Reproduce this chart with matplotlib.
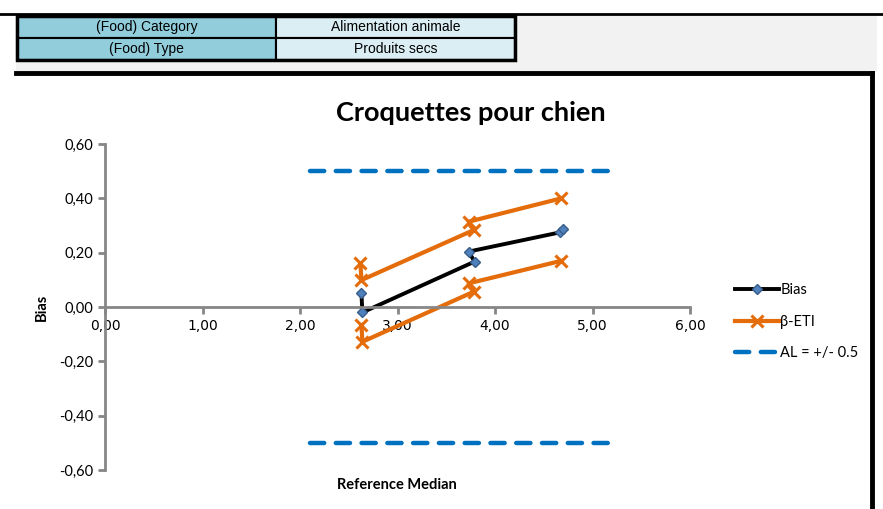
import matplotlib.pyplot as plt
from matplotlib.patches import Rectangle
from matplotlib.lines import Line2D

# données
bias_x = [2.63, 2.64, 3.79, 3.73, 4.67, 4.70]
bias_y = [0.05, -0.02, 0.167, 0.204, 0.275, 0.288]

eti_up_x = [2.62, 2.63, 3.78, 3.73, 4.68]
eti_up_y = [0.161, 0.099, 0.283, 0.314, 0.40]
eti_lo_x = [2.63, 2.64, 3.78, 3.73, 4.68]
eti_lo_y = [-0.066, -0.128, 0.056, 0.087, 0.170]

al_x = [2.10, 5.18]
al_level = 0.5

table_rows = [["(Food) Category", "Alimentation animale"],
              ["(Food) Type", "Produits secs"]]

W, H = 883, 509
fig = plt.figure(figsize=(W / 100, H / 100), dpi=100)
fig.patch.set_facecolor("white")


def fx(px):
    return px / W


def fy(py):
    return 1 - py / H


# bandeau gris + ligne noire du haut
fig.add_artist(Rectangle((fx(16), fy(72)), fx(861), fy(16) - fy(72),
                         transform=fig.transFigure, fc="#F2F2F2", ec="none"))
fig.add_artist(Line2D([0, 1], [fy(14), fy(14)], transform=fig.transFigure,
                      color="black", lw=2))

# tableau en haut
narrow = ["Liberation Sans Narrow", "Liberation Sans", "DejaVu Sans"]
cols = [(17, 276, "#92CDDC"), (276, 515, "#DAEEF3")]
row_y = [(16, 38), (38, 60)]
for r, (y0, y1) in enumerate(row_y):
    for c, (x0, x1, col) in enumerate(cols):
        fig.add_artist(Rectangle((fx(x0), fy(y1)), fx(x1 - x0), fy(y0) - fy(y1),
                                 transform=fig.transFigure, fc=col,
                                 ec="black", lw=1.5))
        fig.text(fx((x0 + x1) / 2), fy((y0 + y1) / 2), table_rows[r][c],
                 ha="center", va="center", fontsize=10, family=narrow)
fig.add_artist(Rectangle((fx(17), fy(60)), fx(498), fy(16) - fy(60),
                         transform=fig.transFigure, fc="none",
                         ec="black", lw=2.5))

# cadre du graphique
fig.add_artist(Rectangle((fx(16), fy(509)), fx(855), fy(73) - fy(509),
                         transform=fig.transFigure, fc="white", ec="none"))
fig.add_artist(Line2D([fx(16), fx(872)], [fy(73), fy(73)],
                      transform=fig.transFigure, color="black", lw=3.5))
fig.add_artist(Line2D([fx(872), fx(872)], [fy(73), 0],
                      transform=fig.transFigure, color="black", lw=3.5))

font = ["Lato", "DejaVu Sans"]
ax = fig.add_axes([fx(105), fy(470), fx(585), fy(144) - fy(470)])
ax.set_facecolor("none")
ax.set_zorder(5)

ax.plot(al_x, [al_level] * 2, color="#0070C0", lw=3.2,
        dashes=(3.2, 2.6), dash_capstyle="round", label="AL = +/- 0.5")
ax.plot(al_x, [-al_level] * 2, color="#0070C0", lw=3.2,
        dashes=(3.2, 2.6), dash_capstyle="round")

ax.plot(eti_up_x, eti_up_y, color="#E46C0A", lw=3, marker="x", ms=8,
        mew=2.2, label="β-ETI")
ax.plot(eti_lo_x, eti_lo_y, color="#E46C0A", lw=3, marker="x", ms=8,
        mew=2.2)

ax.plot(bias_x, bias_y, color="black", lw=2.8, marker="D", ms=5,
        mfc="#4F81BD", mec="#385D8A", mew=1, label="Bias")

ax.set_xlim(0, 6)
ax.set_ylim(-0.6, 0.6)
ax.set_xticks([0, 1, 2, 3, 4, 5, 6])
ax.set_yticks([-0.6, -0.4, -0.2, 0, 0.2, 0.4, 0.6])
ax.set_xticklabels([f"{v:.2f}".replace(".", ",") for v in ax.get_xticks()],
                   family=font, fontsize=10.5)
ax.set_yticklabels([f"{v:.2f}".replace(".", ",") for v in ax.get_yticks()],
                   family=font, fontsize=10.5)

for s in ["top", "right"]:
    ax.spines[s].set_visible(False)
ax.spines["bottom"].set_position(("data", 0))
for s in ["left", "bottom"]:
    ax.spines[s].set_color("#868686")
    ax.spines[s].set_linewidth(2)
ax.tick_params(colors="#868686", width=2, length=5, labelcolor="black")
ax.tick_params(axis="x", pad=4)

fig.text(fx(471), fy(113), "Croquettes pour chien", ha="center", va="center",
         fontsize=19.5, fontweight="bold", family=font)
fig.text(fx(397), fy(485), "Reference Median", ha="center", va="center",
         fontsize=10.5, fontweight="bold", family=font)
fig.text(fx(42), fy(307), "Bias", ha="center", va="center", rotation=90,
         fontsize=10.5, fontweight="bold", family=font)

handles, labels = ax.get_legend_handles_labels()
order = [2, 1, 0]
leg = fig.legend([handles[i] for i in order], [labels[i] for i in order],
                 loc="upper left", bbox_to_anchor=(fx(722), fy(270)),
                 frameon=False, prop={"family": font, "size": 10.5},
                 handlelength=3, handletextpad=0.1, labelspacing=1.2)

plt.savefig("out.png", dpi=100)
